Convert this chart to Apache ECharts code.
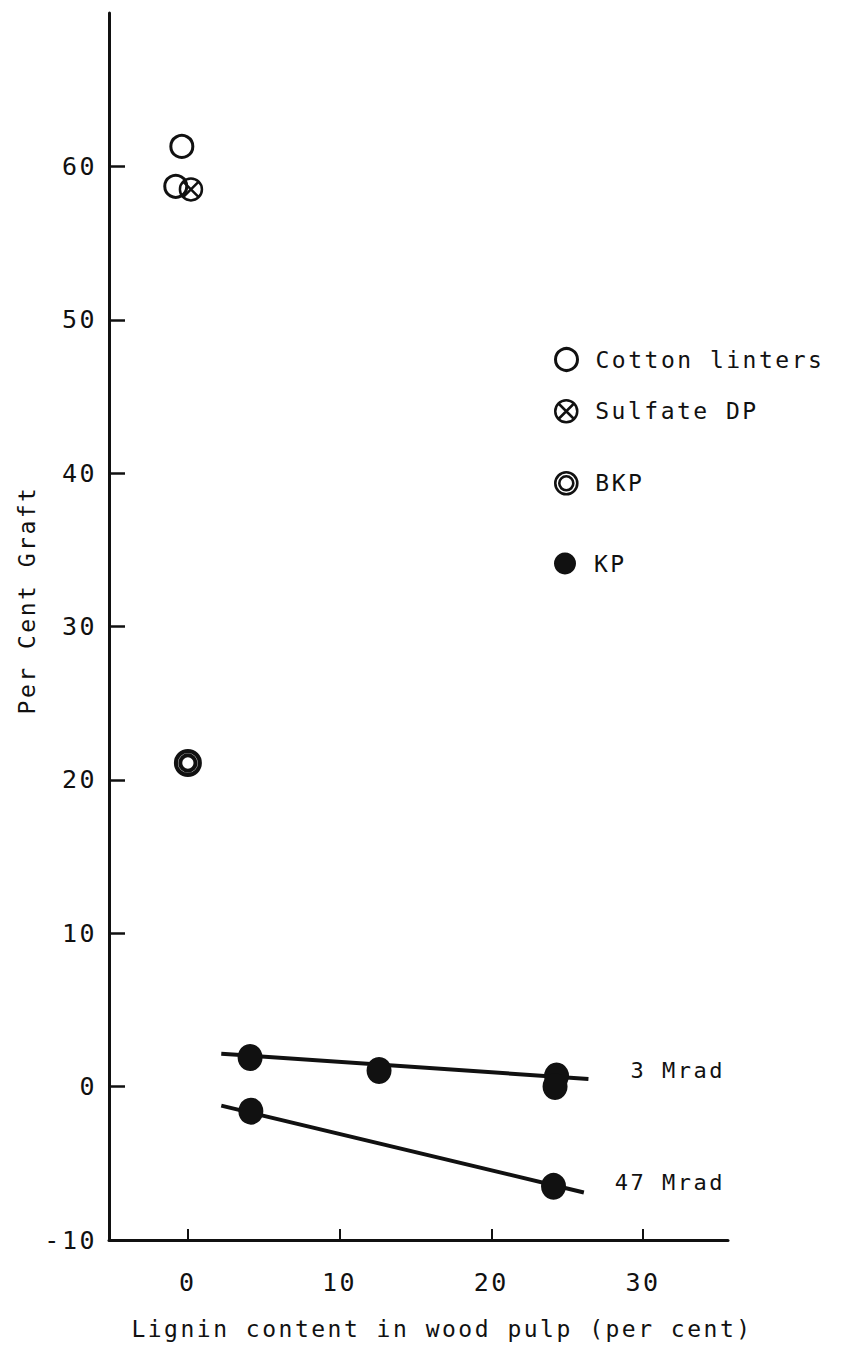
<!DOCTYPE html>
<html>
<head>
<meta charset="utf-8">
<script src="https://cdn.jsdelivr.net/npm/echarts@6/dist/echarts.min.js"></script>
<style>
  html, body { margin: 0; padding: 0; background: #ffffff; }
  #chart { width: 846px; height: 1348px; }
  #chart text { letter-spacing: 2.5px; }
</style>
</head>
<body>
<div id="chart"></div>
<script>
// Per cent graft against lignin content, by pulp type
const cottonLinters = [[-0.4, 61.3], [-0.8, 58.7]];
const sulfateDP = [[0.2, 58.5]];
const bkp = [[0.0, 21.1]];
const kp = [[4.1, 1.9], [12.6, 1.05], [24.3, 0.7], [24.2, 0.0], [4.15, -1.6], [24.1, -6.5]];

// Straight lines drawn through the KP points for each dose
const fit3Mrad = [[2.2, 2.15], [26.4, 0.5]];
const fit47Mrad = [[2.2, -1.24], [26.1, -6.9]];
const doseLabels = ['3 Mrad', '47 Mrad'];

const xTicks = [0, 10, 20, 30];
const yTicks = [-10, 0, 10, 20, 30, 40, 50, 60];

const INK = '#111111';
const FONT = '"DejaVu Sans Mono", "Liberation Mono", monospace';

// Symbols: ring with a cross, double ring
const crossedRing = 'path://M1,12A11,11 0 1,1 23,12A11,11 0 1,1 1,12Z M4.5,4.5L19.5,19.5M19.5,4.5L4.5,19.5';
const doubleRing = 'path://M1,12A11,11 0 1,1 23,12A11,11 0 1,1 1,12Z M5,12A7,7 0 1,1 19,12A7,7 0 1,1 5,12Z';

const chart = echarts.init(document.getElementById('chart'), null, { renderer: 'svg' });

function legendAt(name, top, borderWidth) {
  return {
    data: [{ name: name, itemStyle: { borderWidth: borderWidth, borderColor: INK, opacity: 1 } }],
    orient: 'vertical',
    left: 554,
    top: top,
    padding: 0,
    itemWidth: 22,
    itemHeight: 22,
    selectedMode: false,
    textStyle: { fontFamily: FONT, fontSize: 23, color: INK, lineHeight: 22, padding: [0, 0, 0, 13] }
  };
}

const option = {
  animation: false,
  backgroundColor: '#ffffff',
  grid: { left: 109, top: 13, width: 619, height: 1227, containLabel: false, outerBoundsMode: 'none' },
  xAxis: {
    type: 'value',
    min: -5.2,
    max: 35.6,
    axisLine: { onZero: false, lineStyle: { color: INK, width: 3 } },
    axisTick: { show: true, inside: true, length: 11, customValues: xTicks, lineStyle: { color: INK, width: 2 } },
    axisLabel: { customValues: xTicks, margin: 30, fontFamily: FONT, fontSize: 25, color: INK },
    splitLine: { show: false }
  },
  yAxis: {
    type: 'value',
    min: -10,
    max: 70,
    interval: 10,
    axisLine: { onZero: false, lineStyle: { color: INK, width: 3 } },
    axisTick: { show: true, inside: true, length: 16, customValues: yTicks, lineStyle: { color: INK, width: 2.5 } },
    axisLabel: { customValues: yTicks, margin: 12, fontFamily: FONT, fontSize: 25, color: INK },
    splitLine: { show: false }
  },
  legend: [
    legendAt('Cotton linters', 347, 3),
    legendAt('Sulfate DP', 399, 2.5),
    legendAt('BKP', 471, 2.6),
    legendAt('KP', 552, 0)
  ],
  graphic: [
    {
      type: 'text',
      x: 27, y: 600,
      rotation: Math.PI / 2,
      style: { text: 'Per Cent Graft', fontFamily: FONT, fontSize: 23, fill: INK, align: 'center', verticalAlign: 'middle' }
    },
    {
      type: 'text',
      x: 442, y: 1329,
      style: { text: 'Lignin content in wood pulp (per cent)', fontFamily: FONT, fontSize: 23, fill: INK, align: 'center', verticalAlign: 'middle' }
    }
  ],
  series: [
    {
      name: '3 Mrad line', type: 'line', data: fit3Mrad, symbol: 'none',
      lineStyle: { color: INK, width: 4 }, z: 2
    },
    {
      name: '47 Mrad line', type: 'line', data: fit47Mrad, symbol: 'none',
      lineStyle: { color: INK, width: 4 }, z: 2
    },
    {
      name: 'dose labels', type: 'scatter', symbolSize: 0, z: 3,
      data: [
        { value: fit3Mrad[1], label: { show: true, formatter: doseLabels[0], position: 'right', distance: 0, offset: [42, -8] } },
        { value: fit47Mrad[1], label: { show: true, formatter: doseLabels[1], position: 'right', distance: 0, offset: [31, -10] } }
      ],
      label: { fontFamily: FONT, fontSize: 22, color: INK, opacity: 1 },
      itemStyle: { color: 'transparent', opacity: 1 }
    },
    {
      name: 'Cotton linters', type: 'scatter', data: cottonLinters, symbol: 'circle', symbolSize: 22,
      itemStyle: { color: 'rgba(0,0,0,0)', borderColor: INK, borderWidth: 3, opacity: 1 }, z: 4
    },
    {
      name: 'Sulfate DP', type: 'scatter', data: sulfateDP, symbol: crossedRing, symbolSize: 22,
      itemStyle: { color: 'rgba(0,0,0,0)', borderColor: INK, borderWidth: 2.5, opacity: 1 }, z: 4
    },
    {
      name: 'BKP', type: 'scatter', data: bkp, symbol: doubleRing, symbolSize: 24,
      itemStyle: { color: 'rgba(0,0,0,0)', borderColor: INK, borderWidth: 4.0, opacity: 1 }, z: 4
    },
    {
      name: 'KP', type: 'scatter', data: kp, symbol: 'circle', symbolSize: [25, 27],
      itemStyle: { color: INK, borderWidth: 0, opacity: 1 }, z: 4
    }
  ]
};

chart.setOption(option);
</script>
</body>
</html>
